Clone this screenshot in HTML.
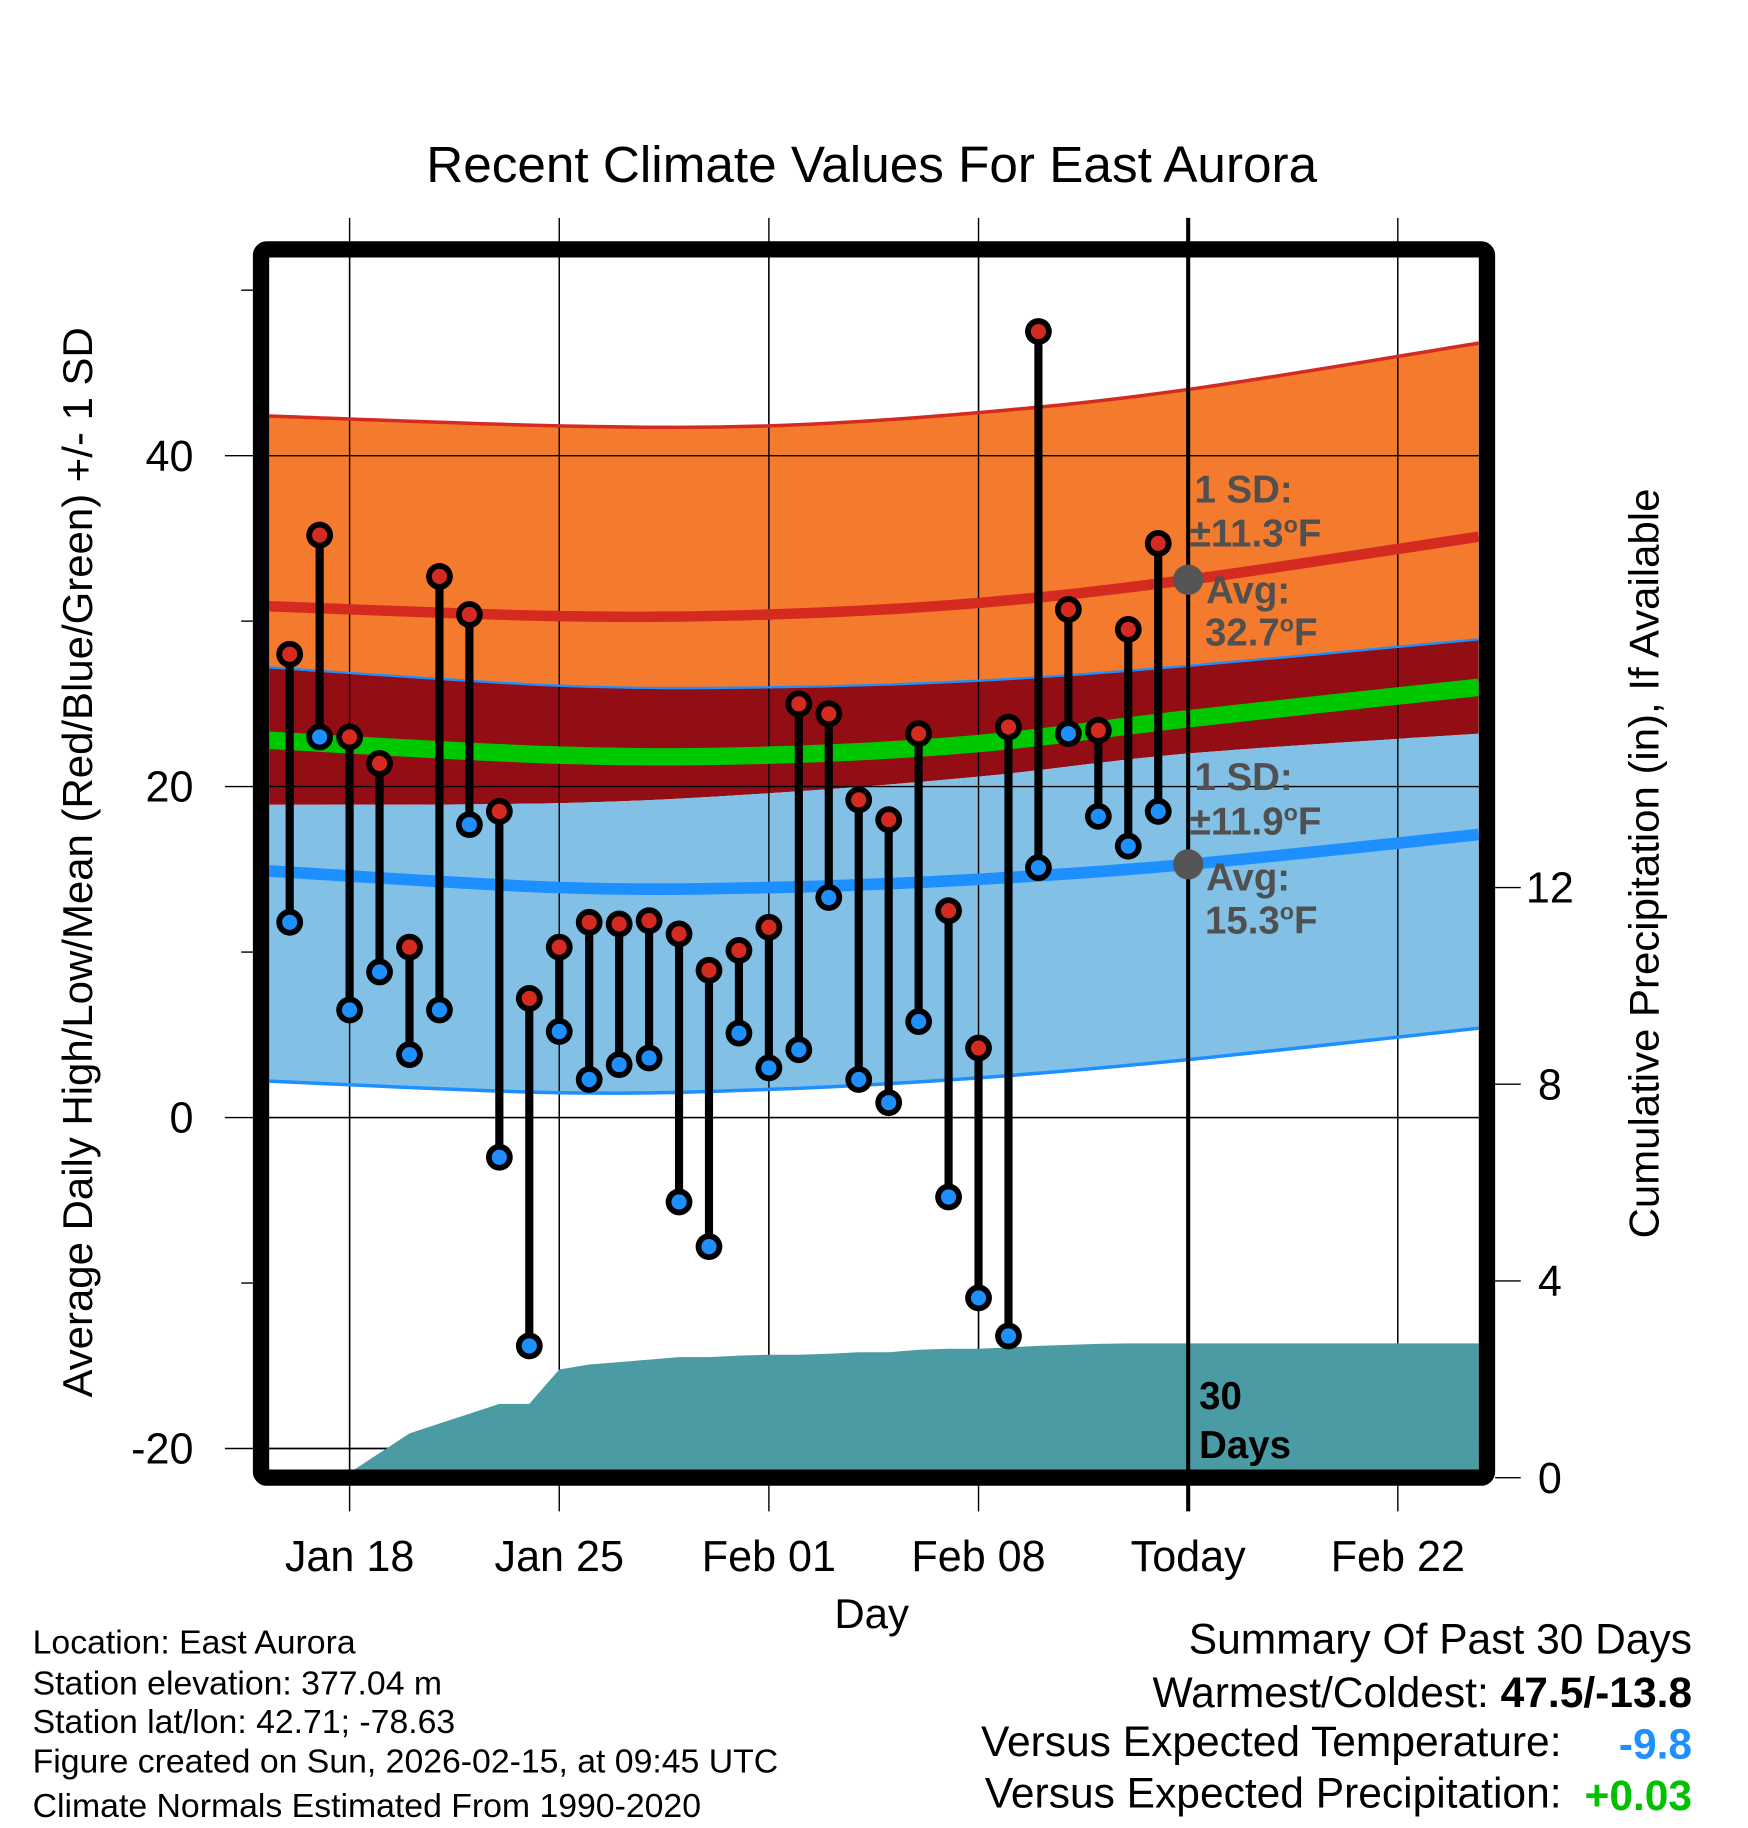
<!DOCTYPE html>
<html><head><meta charset="utf-8"><style>
html,body{margin:0;padding:0;background:#fff}
svg{display:block}
text{font-family:"Liberation Sans",Arial,sans-serif}
</style></head><body>
<svg id="chart" width="1748" height="1828" viewBox="0 0 1500 1568.65" xmlns="http://www.w3.org/2000/svg">
<defs><clipPath id="plotclip"><rect x="231" y="221" width="1038" height="1040"/></clipPath></defs>
<rect width="1500" height="1569" fill="#fff"/>
<text x="748" y="156" font-size="44" text-anchor="middle">Recent Climate Values For East Aurora</text>
<g id="grid"></g>
<g id="plot" clip-path="url(#plotclip)"></g>
<g id="overlay"></g>
<rect x="224" y="214" width="1052" height="1054" rx="5" fill="none" stroke="#000" stroke-width="14"/>
<g id="axes"></g>
<text transform="translate(79,740) rotate(-90)" font-size="36" text-anchor="middle">Average Daily High/Low/Mean (Red/Blue/Green) +/- 1 SD</text>
<text transform="translate(1423,741) rotate(-90)" font-size="36" text-anchor="middle">Cumulative Precipitation (in), If Available</text>
<text x="748" y="1397" font-size="36" text-anchor="middle">Day</text>
<g font-size="29">
<text x="28" y="1419">Location: East Aurora</text>
<text x="28" y="1454">Station elevation: 377.04 m</text>
<text x="28" y="1487">Station lat/lon: 42.71; -78.63</text>
<text x="28" y="1521">Figure created on Sun, 2026-02-15, at 09:45 UTC</text>
<text x="28" y="1559">Climate Normals Estimated From 1990-2020</text>
</g>
<g font-size="36.5" text-anchor="end">
<text x="1452" y="1419">Summary Of Past 30 Days</text>
<text x="1452" y="1465">Warmest/Coldest: <tspan font-weight="bold">47.5/-13.8</tspan></text>
<text x="1340" y="1507">Versus Expected Temperature:</text>
<text x="1452" y="1509" fill="#1E8FFF" font-weight="bold">-9.8</text>
<text x="1340" y="1551">Versus Expected Precipitation:</text>
<text x="1452" y="1553" fill="#00C000" font-weight="bold">+0.03</text>
</g>
</svg>
<script>
const days=[-2,-1,0,1,2,3,4,5,6,7,8,9,10,11,12,13,14,15,16,17,18,19,20,21,22,23,24,25,26,27];
const highs=[28.0,35.2,23.0,21.4,10.3,32.7,30.4,18.5,7.2,10.3,11.8,11.7,11.9,11.1,8.9,10.1,11.5,25.0,24.4,19.2,18.0,23.2,12.5,4.2,23.6,47.5,30.7,23.4,29.5,34.7];
const lows=[11.8,23.0,6.5,8.8,3.8,6.5,17.7,-2.4,-13.8,5.2,2.3,3.2,3.6,-5.1,-7.8,5.1,3.0,4.1,13.3,2.3,0.9,5.8,-4.8,-10.9,-13.2,15.1,23.2,18.2,16.4,18.5];
const precip=[0,0,0.1,0.5,0.9,1.1,1.3,1.5,1.5,2.2,2.3,2.35,2.4,2.45,2.45,2.48,2.5,2.5,2.52,2.55,2.55,2.6,2.62,2.62,2.65,2.68,2.7,2.72,2.73,2.73];
const normDays=[-2.7,7,14,21,28,37.7];
const hiPlus=[42.4,41.8,41.8,42.6,44.0,46.8];
const hiMean=[30.9,30.3,30.4,31.1,32.5,35.1];
const hiMinus=[27.2,26.1,26.0,26.4,27.3,28.9];
const dayMean=[22.8,21.9,21.9,22.6,24.1,26.0];
const loPlus=[18.9,19.0,19.6,20.6,22.0,23.2];
const loMean=[14.9,13.9,13.9,14.4,15.3,17.1];
const loMinus=[2.2,1.5,1.7,2.4,3.5,5.4];
const xTickDays=[0,7,14,21,28,35];
const xTickLabels=["Jan 18","Jan 25","Feb 01","Feb 08","Today","Feb 22"];
const yTicks=[40,20,0,-20];
const yMinor=[50,30,10,-10];
const pTicks=[0,4,8,12];
const todayDay=28;

const X=d=>300+d*25.7, Y=t=>959-t*14.2, YP=p=>1268-p*42.2;
const NS="http://www.w3.org/2000/svg";
function mk(tag,attrs,parent){const e=document.createElementNS(NS,tag);for(const k in attrs)e.setAttribute(k,attrs[k]);parent.appendChild(e);return e;}
function curve(pts){let s="M"+pts[0][0]+","+pts[0][1];for(let i=0;i<pts.length-1;i++){const p0=pts[Math.max(0,i-1)],p1=pts[i],p2=pts[i+1],p3=pts[Math.min(pts.length-1,i+2)];const c1=[p1[0]+(p2[0]-p0[0])/6,p1[1]+(p2[1]-p0[1])/6],c2=[p2[0]-(p3[0]-p1[0])/6,p2[1]-(p3[1]-p1[1])/6];s+=" C"+c1+" "+c2+" "+p2;}return s;}
const P=arr=>normDays.map((d,i)=>[X(d),Y(arr[i])]);
function band(a,b){const top=curve(P(a));const bot=curve(P(b).reverse());return top+" L"+bot.slice(1)+" Z";}

const grid=document.getElementById('grid'),plot=document.getElementById('plot'),ov=document.getElementById('overlay'),axes=document.getElementById('axes');
xTickDays.forEach((d,i)=>{if(d===todayDay)return;const l=mk('line',{x1:X(d),x2:X(d),y1:187,y2:1297,stroke:'#000','stroke-width':1.2},grid);});
yTicks.forEach(t=>{const l=mk('line',{x1:193,x2:1269,y1:Y(t),y2:Y(t),stroke:'#000','stroke-width':1.2},grid);});
let e;
e=mk('path',{d:band(hiPlus,hiMinus),fill:'#F47A2E'},plot);
e=mk('path',{d:band(hiMinus,loPlus),fill:'#930E14'},plot);
e=mk('path',{d:band(loPlus,loMinus),fill:'#82C0E6'},plot);
xTickDays.forEach(d=>{if(d===todayDay)return;const l=mk('line',{x1:X(d),x2:X(d),y1:221,y2:1261,stroke:'#000','stroke-width':1.2},plot);});
yTicks.forEach(t=>{const l=mk('line',{x1:231,x2:1269,y1:Y(t),y2:Y(t),stroke:'#000','stroke-width':1.2},plot);});
function line(arr,color,w,name){const l=mk('path',{d:curve(P(arr)),fill:'none',stroke:color,'stroke-width':w},plot);}
line(hiPlus,'#D42A20',3,'high-plus-sd-line');
line(hiMinus,'#1E8FFF',2,'high-minus-sd-line');
line(loMinus,'#1E8FFF',3,'low-minus-sd-line');
line(hiMean,'#D42A20',9,'normal-high-line');
line(dayMean,'#00C800',15,'normal-mean-line');
line(loMean,'#1E8FFF',10,'normal-low-line');
let pd="M"+X(days[0])+","+YP(0);
days.forEach((d,i)=>{pd+=" L"+X(d)+","+YP(precip[i]);});
pd+=" L"+X(38)+","+YP(precip[precip.length-1])+" L"+X(38)+","+YP(0)+" Z";
e=mk('path',{d:pd,fill:'#4A9BA3'},plot);
e=mk('line',{x1:X(todayDay),x2:X(todayDay),y1:187,y2:1297,stroke:'#000','stroke-width':3.5},ov);
days.forEach((d,i)=>{
 const g=mk('g',{},ov);
 const s=mk('line',{x1:X(d),x2:X(d),y1:Y(highs[i]),y2:Y(lows[i]),stroke:'#000','stroke-width':7},g);
 [[lows[i],'#1E8FFF','low-marker'],[highs[i],'#D42A20','high-marker']].forEach(([v,c,n])=>{
  const o=mk('circle',{cx:X(d),cy:Y(v),r:11.5,fill:'#000'},g);
  const c2=mk('circle',{cx:X(d),cy:Y(v),r:6.5,fill:c},g);
 });
});
const hiToday=hiMean[4],loToday=loMean[4];
e=mk('circle',{cx:X(todayDay),cy:Y(hiToday),r:13,fill:'#555'},ov);
e=mk('circle',{cx:X(todayDay),cy:Y(loToday),r:13,fill:'#555'},ov);
function txt(x,y,s,attrs,parent,name){const t=mk('text',attrs,parent);t.setAttribute('x',x);t.setAttribute('y',y);t.textContent=s;return t;}
function degTxt(x,y,num,attrs,parent,name){const t=mk('text',attrs,parent);t.setAttribute('x',x);t.setAttribute('y',y);
 t.appendChild(document.createTextNode(num));const s=mk('tspan',{dy:-12,'font-size':20},t);s.textContent='o';const f=mk('tspan',{dy:12},t);f.textContent='F';return t;}
const A={'font-size':33,'font-weight':'bold',fill:'#505050'};
txt(1025,431,'1 SD:',A,ov,'high-sd-label');
degTxt(1021,469,'±11.3',A,ov,'high-sd-value');
txt(1035,518,'Avg:',A,ov,'high-avg-label');
degTxt(1034,554,'32.7',A,ov,'high-avg-value');
txt(1025,678,'1 SD:',A,ov,'low-sd-label');
degTxt(1021,716,'±11.9',A,ov,'low-sd-value');
txt(1035,764,'Avg:',A,ov,'low-avg-label');
degTxt(1034,801,'15.3',A,ov,'low-avg-value');
const B={'font-size':33,'font-weight':'bold',fill:'#000'};
txt(1029,1209,'30',B,ov,'days-count-label');
txt(1029,1251,'Days',B,ov,'days-word-label');
yTicks.forEach(t=>{txt(166,Y(t)+13,String(t),{'font-size':37,'text-anchor':'end'},axes,'y-tick-label');});
yMinor.forEach(t=>{const l=mk('line',{x1:207,x2:217,y1:Y(t),y2:Y(t),stroke:'#000','stroke-width':1.2},axes);});
pTicks.forEach(p=>{const l=mk('line',{x1:1283,x2:1305,y1:YP(p),y2:YP(p),stroke:'#000','stroke-width':1.2},axes);
 txt(1330,YP(p)+13,String(p),{'font-size':37,'text-anchor':'middle'},axes,'y2-tick-label');});
xTickDays.forEach((d,i)=>{txt(X(d),1348,xTickLabels[i],{'font-size':37,'text-anchor':'middle'},axes,'x-tick-label');});
</script>
</body></html>
